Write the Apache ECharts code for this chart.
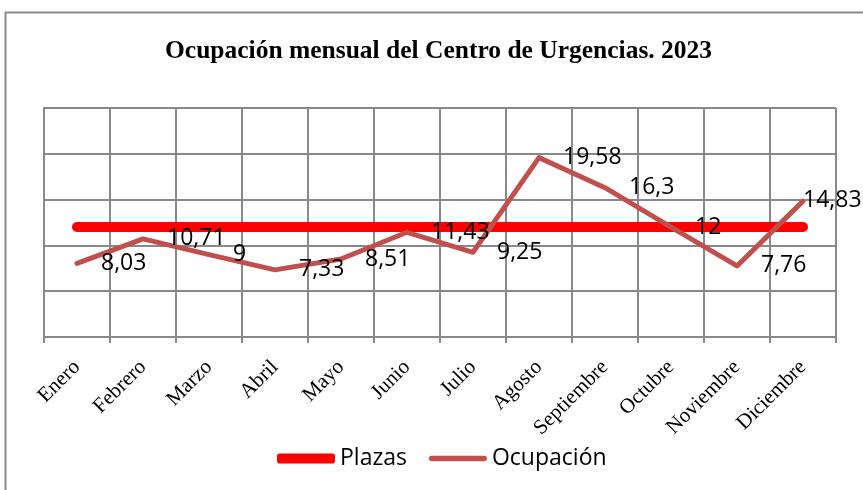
<!DOCTYPE html>
<html>
<head>
<meta charset="utf-8">
<script src="https://cdn.jsdelivr.net/npm/echarts@6/dist/echarts.min.js"></script>
<style>
  html, body { margin: 0; padding: 0; background: #fff; }
  #chart { width: 863px; height: 490px; }
</style>
</head>
<body>
<div id="chart"></div>
<script>
const meses = ['Enero', 'Febrero', 'Marzo', 'Abril', 'Mayo', 'Junio', 'Julio', 'Agosto', 'Septiembre', 'Octubre', 'Noviembre', 'Diciembre']
const plazas = [12, 12, 12, 12, 12, 12, 12, 12, 12, 12, 12, 12]
const ocupacion = [8.03, 10.71, 9, 7.33, 8.51, 11.43, 9.25, 19.58, 16.3, 12, 7.76, 14.83]

const gris = '#898989'

let chart = echarts.init(document.getElementById('chart'))

// la etiqueta de diciembre va pegada al punto, no a la derecha
const ocupacionData = ocupacion.map((v, i) => {
  if (i === meses.length - 1) return { value: v, label: { position: [0, -12] } }
  return v
})

const option = {
  backgroundColor: '#fff',
  animation: false,
  title: {
    text: 'Ocupación mensual del Centro de Urgencias. 2023',
    left: 160,
    top: 33,
    textStyle: { fontFamily: 'Liberation Serif', fontWeight: 'bold', fontSize: 25.5, color: '#000' },
  },
  graphic: [{
    type: 'rect',
    shape: { x: 5.5, y: 12.5, width: 900, height: 600 },
    style: { fill: 'none', stroke: gris, lineWidth: 2 },
    silent: true,
  }],
  legend: {
    bottom: 15,
    left: 272,
    itemWidth: 58,
    itemHeight: 10,
    itemGap: 22,
    textStyle: { fontFamily: 'Open Sans', fontSize: 23, color: '#000' },
    data: [
      { name: 'Plazas', icon: 'roundRect', itemStyle: { color: '#ff0000' } },
      {
        name: 'Ocupación',
        icon: 'path://M2.5,0H52.5A2.5,2.5 0 0 1 52.5,5H2.5A2.5,2.5 0 0 1 2.5,0Z',
        itemStyle: { color: '#c0504d' },
      },
    ],
  },
  grid: { left: 44, right: 27, top: 108, bottom: 153 },
  xAxis: {
    type: 'category',
    data: meses,
    boundaryGap: true,
    axisLine: { lineStyle: { color: gris, width: 2 } },
    axisTick: { show: true, length: 6, lineStyle: { color: gris, width: 2 } },
    splitLine: { show: true, lineStyle: { color: gris, width: 2 } },
    axisLabel: {
      rotate: 45,
      margin: 27,
      interval: 0,
      fontFamily: 'Liberation Serif',
      fontSize: 21,
      color: '#000',
    },
  },
  yAxis: {
    type: 'value',
    min: 0,
    max: 25,
    interval: 5,
    axisLine: { show: true, lineStyle: { color: gris, width: 2 } },
    axisTick: { show: false },
    axisLabel: { show: false },
    splitLine: { show: true, lineStyle: { color: gris, width: 2 } },
  },
  series: [
    {
      name: 'Plazas',
      type: 'line',
      data: plazas,
      symbol: 'none',
      lineStyle: { color: '#ff0000', width: 10, cap: 'round' },
      itemStyle: { color: '#ff0000' },
      z: 2,
    },
    {
      name: 'Ocupación',
      type: 'line',
      data: ocupacionData,
      symbol: 'circle',
      symbolSize: 0,
      showSymbol: true,
      lineStyle: { color: '#c0504d', width: 5, cap: 'round', join: 'round' },
      itemStyle: { color: '#c0504d' },
      label: {
        show: true,
        position: 'right',
        distance: 24,
        fontFamily: 'Open Sans',
        fontSize: 23,
        color: '#000',
        formatter: p => String(p.value).replace('.', ','),
      },
      labelLayout: { hideOverlap: false },
      z: 3,
    },
  ],
}

chart.setOption(option, true)
</script>
</body>
</html>
